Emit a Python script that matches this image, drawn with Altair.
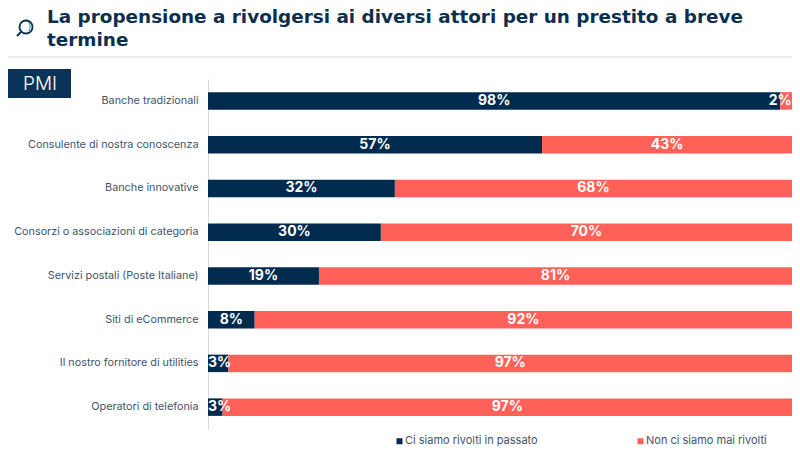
import altair as alt
import pandas as pd

categories = ["Banche tradizionali", "Consulente di nostra conoscenza", "Banche innovative",
              "Consorzi o associazioni di categoria", "Servizi postali (Poste Italiane)",
              "Siti di eCommerce", "Il nostro fornitore di utilities", "Operatori di telefonia"]
passato = [98, 57.2, 32, 29.6, 19, 8, 3.5, 2.5]
mai = [2, 42.8, 68, 70.4, 81, 92, 96.5, 97.5]
passato_labels = ["98%", "57%", "32%", "30%", "19%", "8%", "3%", "3%"]
mai_labels = ["2%", "43%", "68%", "70%", "81%", "92%", "97%", "97%"]
series = ["Ci siamo rivolti in passato", "Non ci siamo mai rivolti"]
colors = ["#002B4F", "#FF6159"]
title_lines = ["La propensione a rivolgersi ai diversi attori per un prestito a breve", "termine"]
FONT = "Inter"
TITLE_FONT = "DejaVu Sans"
NAVY = "#0B2F4E"

def clamp(v):
    # labels of very thin segments stay inside the plot
    return min(max(v, 2.0), 98.0)

rows = []
for c, a, b, la, lb in zip(categories, passato, mai, passato_labels, mai_labels):
    rows.append(dict(cat=c, s=series[0], start=0, end=a, mid=clamp(a / 2), label=la))
    rows.append(dict(cat=c, s=series[1], start=a, end=a + b, mid=clamp(a + b / 2), label=lb))
df = pd.DataFrame(rows)

y = alt.Y("cat:N", sort=categories, scale=alt.Scale(paddingInner=0.6, paddingOuter=0.3),
          axis=alt.Axis(title=None, ticks=False, domainColor="#D9D9D9", domainWidth=1, labelFont=FONT,
                        labelFontSize=10.8, labelColor="#44546A", labelPadding=10, labelLimit=220))
x = alt.X("start:Q", scale=alt.Scale(domain=[0, 100], nice=False), axis=None)

bars = alt.Chart(df).mark_bar().encode(
    y=y, x=x, x2="end:Q",
    color=alt.Color("s:N", sort=series, scale=alt.Scale(domain=series, range=colors),
                    legend=alt.Legend(title=None, orient="none", legendX=186, legendY=356.5, direction="horizontal",
                                      columns=2, symbolType="square", symbolSize=36, columnPadding=97,
                                      labelFont=FONT, labelFontSize=11, labelColor="#44546A",
                                      symbolStrokeWidth=0, labelOffset=0)))
labels = alt.Chart(df).mark_text(color="white", fontWeight="bold", font=FONT, fontSize=14).encode(
    y=alt.Y("cat:N", sort=categories), x=alt.X("mid:Q"), text="label:N")

def deco_text(t, px, py, size, weight, color, align="left", font=FONT, baseline="middle"):
    return alt.Chart(pd.DataFrame({"t": [t]})).mark_text(
        font=font, fontSize=size, fontWeight=weight, color=color, align=align, baseline=baseline
    ).encode(text="t:N", x=alt.value(px), y=alt.value(py))

def rule(x1, x2, y1, y2, color, w):
    return alt.Chart(pd.DataFrame({"a": [0]})).mark_rule(color=color, strokeWidth=w).encode(
        x=alt.value(x1), x2=alt.value(x2), y=alt.value(y1), y2=alt.value(y2))

def ring(px, py, size, color, w):
    return alt.Chart(pd.DataFrame({"a": [0]})).mark_point(shape="circle", size=size, stroke=color, strokeWidth=w,
                                                          filled=False, opacity=1).encode(
        x=alt.value(px), y=alt.value(py))

# origin of plot area on page
OX, OY = 200 + 8, 71 + 8
title1 = deco_text(title_lines[0], 47 - OX, 23 - OY, 18.4, 700, NAVY, font=TITLE_FONT, baseline="alphabetic")
title2 = deco_text(title_lines[1], 47 - OX, 45.5 - OY, 18.4, 700, NAVY, font=TITLE_FONT, baseline="alphabetic")
divider = rule(8 - OX, 792 - OX, 57 - OY, 57 - OY, "#D9D9D9", 1.2)
box = alt.Chart(pd.DataFrame({"a": [0]})).mark_rect(color="#0B3358").encode(
    x=alt.value(8 - OX), x2=alt.value(71 - OX), y=alt.value(69 - OY), y2=alt.value(98 - OY))
pmi = deco_text("PMI", 40 - OX, 84 - OY, 19, 300, "white", "center")
lens = ring(26 - OX, 27 - OY, 170, NAVY, 1.8)
handle = rule(21 - OX, 17 - OX, 32 - OY, 36 - OY, NAVY, 2)
glint = deco_text(")", 29.5 - OX, 27 - OY, 10, 400, "#2E7DA6", "center")

chart = alt.layer(bars, labels, divider, title1, title2, box, pmi, lens, handle, glint).properties(
    width=584, height=350,
    padding={"left": 200, "top": 71, "right": 0, "bottom": 17},
    autosize=alt.AutoSizeParams(type="none"),
    background="white"
).configure_view(stroke=None)

chart.save("out.html", embed_options={"renderer": "svg", "actions": False})
